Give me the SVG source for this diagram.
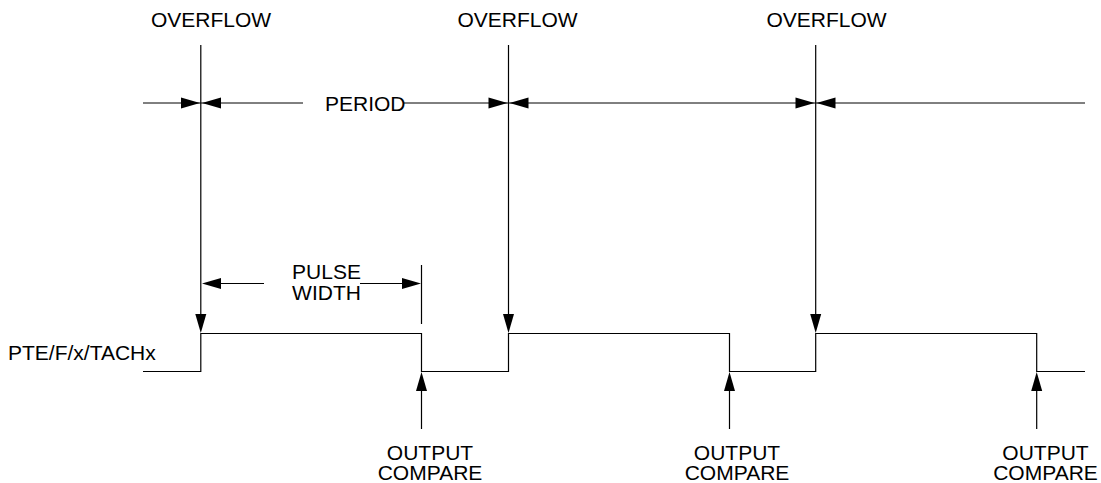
<svg xmlns="http://www.w3.org/2000/svg" width="1101" height="483" viewBox="0 0 1101 483">
<style>
text{font-family:"Liberation Sans",Arial,sans-serif;font-size:21px;fill:#000}
.c{text-anchor:middle}
.ln{stroke:#000;stroke-width:1.2;fill:none}
.dim{stroke:#000;stroke-width:1;fill:none}
.ah{fill:#000;stroke:none}
</style>
<defs>
<polygon id="aR" class="ah" points="0,0 -19,-5.5 -19,5.5"/>
<polygon id="aL" class="ah" points="0,0 19,-5.5 19,5.5"/>
<polygon id="aD" class="ah" points="0,0 -5.5,-19 5.5,-19"/>
<polygon id="aU" class="ah" points="0,0 -5.5,19 5.5,19"/>
</defs>
<rect width="1101" height="483" fill="#fff"/>
<g id="overflow1"><text class="c" x="211" y="27">OVERFLOW</text></g>
<g id="overflow2"><text class="c" x="517.5" y="27">OVERFLOW</text></g>
<g id="overflow3"><text class="c" x="826.5" y="27">OVERFLOW</text></g>
<g id="period"><text x="325" y="111">PERIOD</text></g>
<g id="pulsewidth"><text class="c" x="326.5" y="279">PULSE</text><text class="c" x="326.5" y="300">WIDTH</text></g>
<g id="signal-label"><text x="8" y="360">PTE/F/x/TACHx</text></g>
<g id="oc1"><text class="c" x="430" y="459.5">OUTPUT</text><text class="c" x="430" y="479.5">COMPARE</text></g>
<g id="oc2"><text class="c" x="737" y="459.5">OUTPUT</text><text class="c" x="737" y="479.5">COMPARE</text></g>
<g id="oc3"><text class="c" x="1045.5" y="459.5">OUTPUT</text><text class="c" x="1045.5" y="479.5">COMPARE</text></g>
<g id="connectors">
<!-- period dimension line -->
<path class="dim" d="M143,103H303M403,103H1085"/>
<use href="#aR" x="200" y="103"/><use href="#aL" x="202" y="103"/>
<use href="#aR" x="507.5" y="103"/><use href="#aL" x="509.5" y="103"/>
<use href="#aR" x="814.5" y="103"/><use href="#aL" x="816.5" y="103"/>
<!-- overflow lines -->
<path class="ln" d="M200.8,45V314M508.5,45V314M815.7,45V314"/>
<use href="#aD" x="200.8" y="333"/><use href="#aD" x="508.5" y="333"/><use href="#aD" x="815.7" y="333"/>
<!-- pulse width -->
<path class="dim" d="M221,283.5H264M360,283.5H402"/>
<use href="#aL" x="202" y="283.5"/><use href="#aR" x="421" y="283.5"/>
<path class="ln" d="M421.5,265V324"/>
<!-- signal -->
<path class="ln" stroke-width="1.5" d="M143,371.5H200.8V333.5H421.5V371.5H508.5V333.5H729.5V371.5H815.7V333.5H1036.7V371.5H1085"/>
<!-- output compare arrows -->
<path class="ln" d="M421.5,390V429M729.5,390V429M1036.7,390V429"/>
<use href="#aU" x="421.5" y="372"/><use href="#aU" x="729.5" y="372"/><use href="#aU" x="1036.7" y="372"/>
</g>
</svg>
